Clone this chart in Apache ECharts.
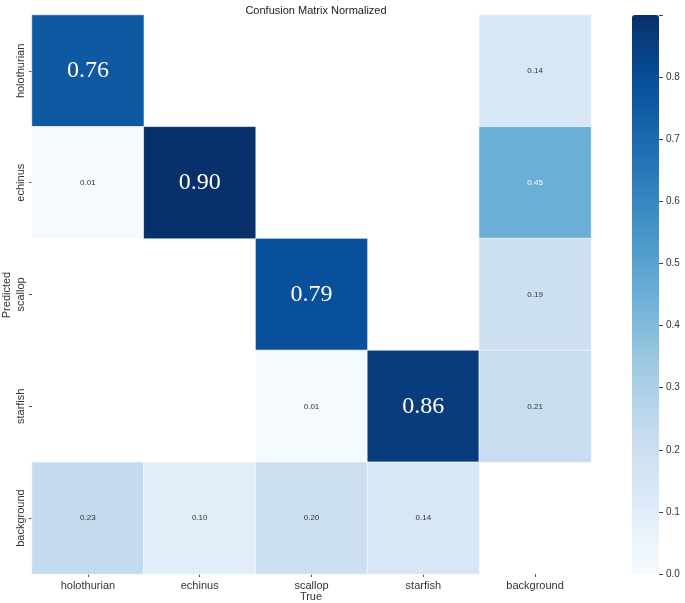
<!DOCTYPE html>
<html>
<head>
<meta charset="utf-8">
<script src="https://cdn.jsdelivr.net/npm/echarts@6/dist/echarts.min.js"></script>
<style>html,body{margin:0;padding:0;background:#fff;}#c{width:685px;height:603px;}</style>
</head>
<body>
<div id="c"></div>
<script>
const trueLabels = ['holothurian', 'echinus', 'scallop', 'starfish', 'background'];
const predictedLabels = ['holothurian', 'echinus', 'scallop', 'starfish', 'background'];
// rows = predicted, columns = true; null = empty cell
const rowHolothurian = [0.76, null, null, null, 0.14];
const rowEchinus     = [0.01, 0.90, null, null, 0.45];
const rowScallop     = [null, null, 0.79, null, 0.19];
const rowStarfish    = [null, null, 0.01, 0.86, 0.21];
const rowBackground  = [0.23, 0.10, 0.20, 0.14, null];
const colorbarTicks = [0, 0.1, 0.2, 0.3, 0.4, 0.5, 0.6, 0.7, 0.8];
const colorMin = 0, colorMax = 0.9;
const xAxisName = 'True', yAxisName = 'Predicted';

const rows = [rowHolothurian, rowEchinus, rowScallop, rowStarfish, rowBackground];
const data = [];
rows.forEach((row, r) => {
  row.forEach((v, c) => {
    if (v === null) return;
    const big = r === c;
    data.push({
      value: [c, r, v],
      label: big
        ? { fontFamily: 'Liberation Serif', fontSize: 24, color: '#fff' }
        : { fontFamily: 'Liberation Sans', fontSize: 8, color: v > 0.4 ? '#fff' : '#333' }
    });
  });
});

const nameFont = { fontFamily: 'Liberation Sans', fontSize: 11, fill: '#333', align: 'center', verticalAlign: 'middle' };

const chart = echarts.init(document.getElementById('c'));
chart.setOption({
  animation: false,
  backgroundColor: '#fff',
  title: {
    text: 'Confusion Matrix Normalized',
    left: 311, top: 0, textAlign: 'center',
    textStyle: { fontFamily: 'Liberation Sans', fontSize: 11, fontWeight: 'normal', color: '#222' }
  },
  graphic: [
    { type: 'text', x: 311, y: 597, style: Object.assign({ text: xAxisName }, nameFont) },
    { type: 'text', x: 7, y: 295, rotation: Math.PI / 2, style: Object.assign({ text: yAxisName }, nameFont) }
  ],
  grid: [
    { left: 32, top: 15, width: 559, height: 559, containLabel: false, outerBoundsMode: 'none' },
    { left: 632, top: 15, width: 27, height: 559, containLabel: false, outerBoundsMode: 'none', z: 10 }
  ],
  xAxis: [
    {
      type: 'category', data: trueLabels, gridIndex: 0,
      axisLine: { show: false },
      axisTick: { show: true, alignWithLabel: true, length: 3, lineStyle: { color: '#555' } },
      axisLabel: { fontFamily: 'Liberation Sans', fontSize: 11, color: '#333', margin: 6 },
      splitLine: { show: false }
    },
    { type: 'value', gridIndex: 1, show: false }
  ],
  yAxis: [
    {
      type: 'category', data: predictedLabels, gridIndex: 0, inverse: true,
      axisLine: { show: false },
      axisTick: { show: true, alignWithLabel: true, length: 3, lineStyle: { color: '#555' } },
      axisLabel: { fontFamily: 'Liberation Sans', fontSize: 11, color: '#333', rotate: 90, margin: 6 },
      splitLine: { show: false }
    },
    {
      type: 'value', gridIndex: 1, position: 'right', min: colorMin, max: colorMax, interval: 0.1, z: 10,
      axisLine: { show: false, onZero: false },
      axisTick: { show: true, inside: false, length: 4, lineStyle: { color: '#444', width: 1 } },
      axisLabel: { fontFamily: 'Liberation Sans', fontSize: 10, color: '#333', margin: 7,
        customValues: colorbarTicks, formatter: v => v.toFixed(1) },
      splitLine: { show: false }
    }
  ],
  visualMap: {
    type: 'continuous', min: colorMin, max: colorMax, seriesIndex: 0,
    orient: 'vertical', left: 632, top: 15, itemWidth: 27, itemHeight: 559,
    padding: 0, text: null, showLabel: false, calculable: false, hoverLink: false,
    inRange: { color: ['#f7fbff', '#deebf7', '#c6dbef', '#9ecae1', '#6baed6', '#4292c6', '#2171b5', '#08519c', '#08306b'] }
  },
  series: [{
    type: 'heatmap', xAxisIndex: 0, yAxisIndex: 0,
    data: data,
    label: { show: true, formatter: p => p.value[2].toFixed(2) },
    itemStyle: { borderColor: '#fff', borderWidth: 0.6 },
    emphasis: { disabled: true }
  }]
});
</script>
</body>
</html>
